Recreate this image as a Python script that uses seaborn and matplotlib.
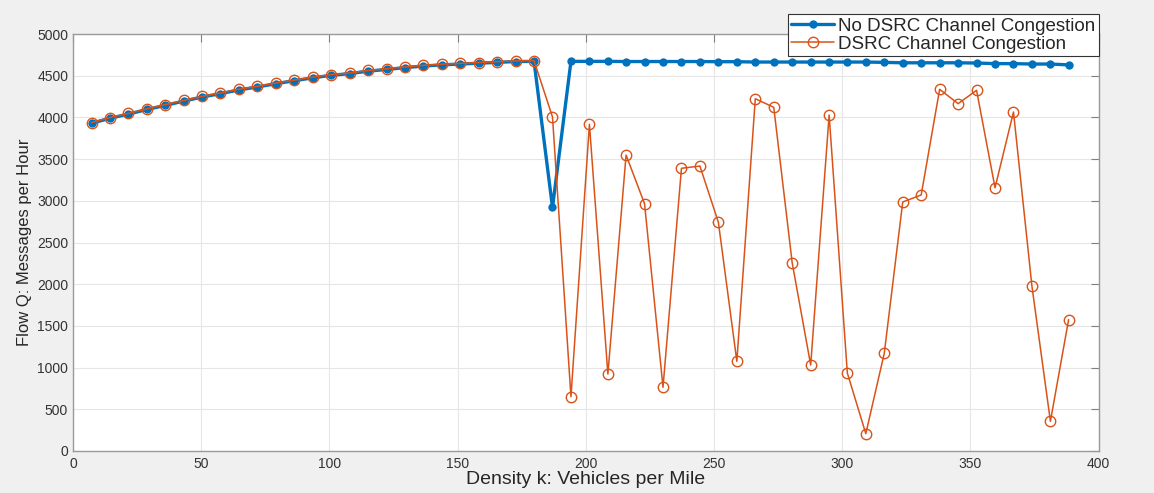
import numpy as np
import pandas as pd
import seaborn as sns
from matplotlib import pyplot as plt

# density k (vehicles per mile)
density = [7.2, 14.4, 21.6, 28.8, 36.0, 43.1, 50.3, 57.5, 64.7, 71.9,
           79.1, 86.3, 93.5, 100.7, 107.9, 115.1, 122.3, 129.4, 136.6, 143.8,
           151.0, 158.2, 165.4, 172.6, 179.8, 187.0, 194.2, 201.4, 208.6, 215.7,
           222.9, 230.1, 237.3, 244.5, 251.7, 258.9, 266.1, 273.3, 280.5, 287.7,
           294.9, 302.0, 309.2, 316.4, 323.6, 330.8, 338.0, 345.2, 352.4, 359.6,
           366.8, 374.0, 381.2, 388.3]

rising = [3930, 3990, 4040, 4095, 4145, 4195, 4245, 4285, 4330, 4365,
          4405, 4440, 4475, 4505, 4525, 4555, 4575, 4597, 4616, 4630,
          4640, 4650, 4660, 4670, 4672]

no_congestion = rising + [
    2920, 4672, 4672, 4672, 4670, 4670, 4670, 4670, 4670, 4668,
    4668, 4664, 4664, 4664, 4664, 4664, 4664, 4664, 4660, 4655,
    4655, 4655, 4655, 4652, 4645, 4645, 4640, 4640, 4630]

congestion = [v + 8 for v in rising] + [
    4005, 651, 3917, 923, 3549, 2965, 764, 3390, 3417, 2742,
    1075, 4224, 4121, 2254, 1031, 4029, 935, 208, 1171, 2986,
    3070, 4337, 4165, 4325, 3157, 4065, 1975, 356, 1575]

label_no = 'No DSRC Channel Congestion'
label_yes = 'DSRC Channel Congestion'
blue = '#0072BD'
orange = '#D95319'

sns.set_style('white')
plt.rcParams['font.family'] = ['Liberation Sans', 'DejaVu Sans']

df = pd.DataFrame({'k': density, 'no': no_congestion, 'yes': congestion})

fig = plt.figure(figsize=(11.54, 4.93), dpi=100, facecolor='#f0f0f0')
ax = fig.add_axes([0.0633, 0.0852, 0.8887, 0.8458])
ax.set_facecolor('white')

sns.lineplot(data=df, x='k', y='no', ax=ax, sort=False, color=blue,
             linewidth=2.4, marker='o', markersize=6, markeredgewidth=0,
             markerfacecolor=blue, label=label_no)
sns.lineplot(data=df, x='k', y='yes', ax=ax, sort=False, color=orange,
             linewidth=1.1, marker='o', markersize=7.5, markeredgewidth=1.0,
             markerfacecolor='none', markeredgecolor=orange, label=label_yes)

ax.set_xlim(0, 400)
ax.set_ylim(0, 5000)
ax.set_xticks(np.arange(0, 401, 50))
ax.set_yticks(np.arange(0, 5001, 500))
ax.grid(True, color='#e6e6e6', linewidth=0.8)
ax.tick_params(direction='in', length=6, width=0.8, color='#808080',
               labelsize=10, labelcolor='#333333', top=True, right=True)
ax.tick_params(axis='x', pad=4)
for s in ax.spines.values():
    s.set_color('#9a9a9a')
    s.set_linewidth(1.0)

ax.set_xlabel('Density k: Vehicles per Mile', fontsize=14, color='#262626',
              labelpad=0)
ax.set_ylabel('Flow Q: Messages per Hour', fontsize=12, color='#262626',
              labelpad=4)

leg = ax.legend(loc='upper right', bbox_to_anchor=(1.0, 1.047),
                fontsize=13.5, frameon=True, fancybox=False, framealpha=1,
                edgecolor='#333333', borderpad=0.18, labelspacing=0.03,
                handlelength=2.3, handletextpad=0.2, borderaxespad=0)
leg.get_frame().set_linewidth(0.8)

fig.savefig('out.png', dpi=100, facecolor=fig.get_facecolor())
plt.close()
